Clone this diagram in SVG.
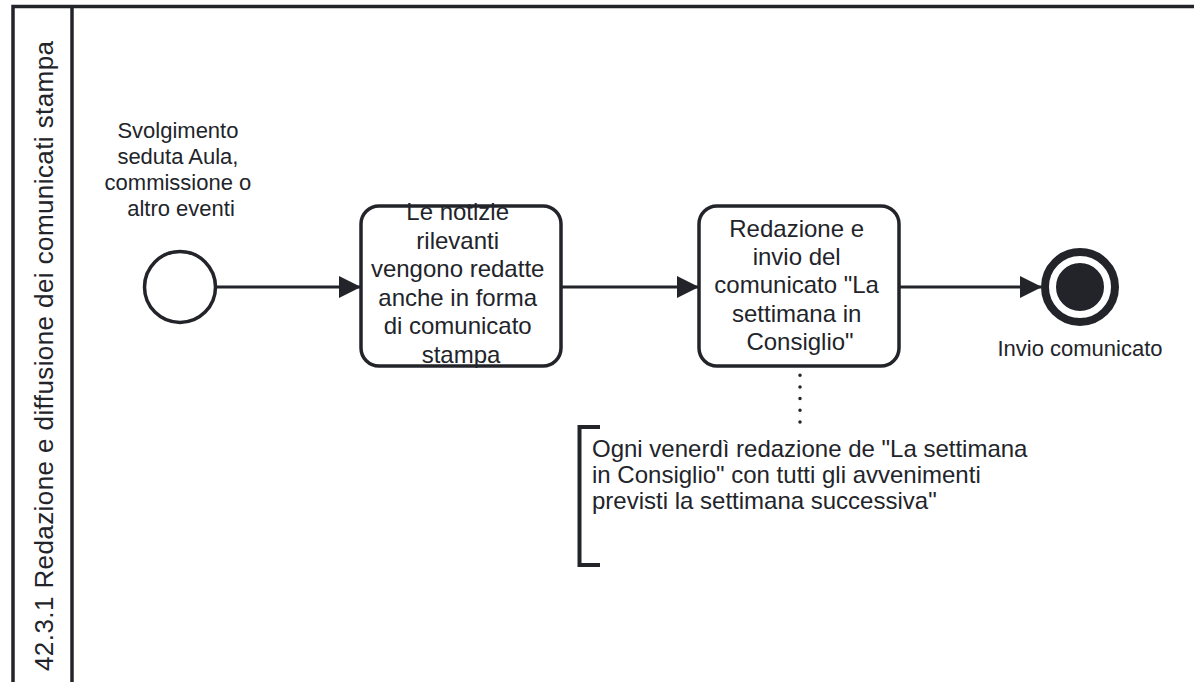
<svg xmlns="http://www.w3.org/2000/svg" width="1194" height="682" viewBox="0 0 1194 682">
  <defs>
    <marker id="arrow" viewBox="0 0 22 22" refX="21" refY="11" markerWidth="22" markerHeight="22" markerUnits="userSpaceOnUse" orient="auto">
      <path d="M 0 0 L 22 11 L 0 22 Z" fill="#22242a"/>
    </marker>
    <style>
      .shape { fill: #ffffff; stroke: #22242a; stroke-width: 3.5; }
      .flow { fill: none; stroke: #22242a; stroke-width: 3; }
      .assoc { fill: none; stroke: #22242a; stroke-width: 3.5; stroke-linecap: round; stroke-dasharray: 0 11.7; }
      .txt { font-family: "Liberation Sans", Arial, sans-serif; fill: #22242a; }
      .task-txt { font-size: 24px; text-anchor: middle; }
      .lbl { font-size: 22px; text-anchor: middle; }
      .note { font-size: 24px; }
    </style>
  </defs>

  <rect width="1194" height="682" fill="#ffffff"/>

  <!-- Lane -->
  <g id="lane">
    <rect x="13" y="6.5" width="1200" height="700" fill="none" stroke="#22242a" stroke-width="3.5"/>
    <line x1="72" y1="6.5" x2="72" y2="700" stroke="#22242a" stroke-width="3.5"/>
    <text class="txt" font-size="26" text-anchor="middle" textLength="630" lengthAdjust="spacing" transform="translate(52.5 356) rotate(-90)">42.3.1 Redazione e diffusione dei comunicati stampa</text>
  </g>

  <!-- Connectors -->
  <g id="connectors">
    <line class="flow" x1="216" y1="287" x2="360" y2="287" marker-end="url(#arrow)"/>
    <line class="flow" x1="562" y1="287" x2="698" y2="287" marker-end="url(#arrow)"/>
    <line class="flow" x1="900" y1="287" x2="1041" y2="287" marker-end="url(#arrow)"/>
    <line class="assoc" x1="800" y1="363.5" x2="800" y2="423"/>
  </g>

  <!-- Start event -->
  <g id="start-event">
    <circle class="shape" cx="180" cy="287" r="35.5"/>
    <text class="txt lbl">
      <tspan x="181" y="138">Svolgimento</tspan>
      <tspan x="181" y="164">seduta Aula,</tspan>
      <tspan x="181" y="190">commissione o</tspan>
      <tspan x="181" y="216">altro eventi</tspan>
    </text>
  </g>

  <!-- Task: notizie rilevanti -->
  <g id="task-notizie">
    <rect class="shape" x="361" y="206" width="200" height="160" rx="18"/>
    <text class="txt task-txt">
      <tspan x="461" y="220">Le notizie</tspan>
      <tspan x="461" y="248.5">rilevanti</tspan>
      <tspan x="461" y="277">vengono redatte</tspan>
      <tspan x="461" y="305.5">anche in forma</tspan>
      <tspan x="461" y="334">di comunicato</tspan>
      <tspan x="461" y="362.5">stampa</tspan>
    </text>
  </g>

  <!-- Task: la settimana in Consiglio -->
  <g id="task-settimana">
    <rect class="shape" x="699" y="206" width="200" height="160" rx="18"/>
    <text class="txt task-txt">
      <tspan x="800" y="237">Redazione e</tspan>
      <tspan x="800" y="265">invio del</tspan>
      <tspan x="800" y="293">comunicato "La</tspan>
      <tspan x="800" y="321.5">settimana in</tspan>
      <tspan x="800" y="350">Consiglio"</tspan>
    </text>
  </g>

  <!-- End event (terminate) -->
  <g id="end-event">
    <circle cx="1080" cy="287" r="35" fill="#ffffff" stroke="#22242a" stroke-width="8"/>
    <circle cx="1080" cy="287" r="20" fill="#22242a" stroke="#22242a" stroke-width="8"/>
    <text class="txt lbl" x="1080" y="356">Invio comunicato</text>
  </g>

  <!-- Text annotation -->
  <g id="annotation">
    <path d="M 600 427 L 579.5 427 L 579.5 565 L 600 565" fill="none" stroke="#22242a" stroke-width="4"/>
    <text class="txt note">
      <tspan x="592" y="457">Ogni venerdì redazione de "La settimana</tspan>
      <tspan x="592" y="483">in Consiglio" con tutti gli avvenimenti</tspan>
      <tspan x="592" y="509">previsti la settimana successiva"</tspan>
    </text>
  </g>
</svg>
